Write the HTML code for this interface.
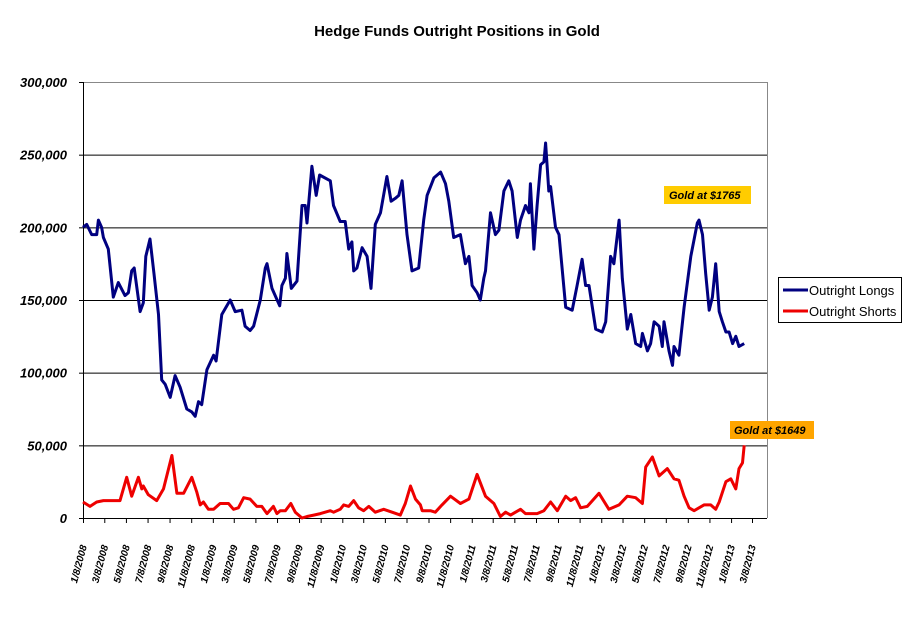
<!DOCTYPE html>
<html><head><meta charset="utf-8"><style>
body{margin:0;background:#fff;}
svg{display:block;font-family:"Liberation Sans",Arial,sans-serif;}
</style></head><body>
<svg id="chart" width="911" height="623" viewBox="0 0 911 623">
<text x="457" y="36" text-anchor="middle" font-size="15" font-weight="bold">Hedge Funds Outright Positions in Gold</text>
<g id="grid"></g>
<g id="yaxis"></g>
<g id="xaxis"></g>
<g id="series"></g>
<g>
<rect x="664" y="186" width="87" height="18" fill="#ffcc00"/>
<text x="669" y="199" font-size="11" font-weight="bold" font-style="italic">Gold at $1765</text></g>
<g>
<rect x="730" y="421" width="84" height="18" fill="#ffa500"/>
<text x="734" y="434" font-size="11" font-weight="bold" font-style="italic">Gold at $1649</text></g>
<g>
<rect x="778.5" y="277.5" width="123" height="45" fill="#fff" stroke="#000"/>
<g><line x1="783" y1="290" x2="808" y2="290" stroke="#000080" stroke-width="3"/><text x="809" y="295" font-size="13">Outright Longs</text></g>
<g><line x1="783" y1="311" x2="808" y2="311" stroke="#ee0000" stroke-width="3"/><text x="809" y="316" font-size="13">Outright Shorts</text></g>
</g>
</svg>
<script>
// weeks since 2008-01-08
const longWeeks=[0,1.5,3.5,5.5,6.2,7.5,8.2,10.2,12.2,14.2,16.9,18.3,19.6,20.6,23,24.3,25.3,27,28.6,30.4,31.7,33.1,35.1,37.1,39.1,41.8,43.8,45.2,46.5,47.8,49.9,52.6,53.6,55.9,59.3,61.3,64,65.3,67.3,68.7,71.4,73.4,74.1,76.1,79.2,80.1,81.5,82.1,83.9,86.2,88.2,89.5,90.2,92.2,93.9,95.3,99.6,100.9,103.6,105.6,107,108.3,109,110.3,112.4,114.4,116,117.7,119.8,122.4,124.1,125.8,127.2,128.5,130.5,132.5,135.2,137.2,138.6,141.3,144,146,147.3,149.3,152,154,155.4,156.7,158.7,160,161.4,162.1,164.1,166.1,167.5,169.5,171.5,172.8,174.9,176.2,178.2,179.6,180.2,181.6,182.9,184.3,185.6,186.3,187.6,188.3,190.3,191.7,194.4,197,199,201,202.4,203.8,206.5,209.1,210.5,212.5,213.8,215.9,217.2,219.2,220.6,222.6,224.6,225.3,227.3,228.6,230,232,233.3,234,236,237.4,238,240,242.1,244.8,247.4,248.1,249.5,250.8,252.2,253.5,254.8,256.2,257.5,258.9,260.2,261.6,262.9,264.2,266.3];
const longValues=[200,202,195,195,205,200,193,185,152,162,153,155,170,172,142,148,180,192,168,140,95,92,83,98,90,75,73,70,80,78,102,112,108,140,150,142,143,132,129,132,150,172,175,158,146,160,165,182,158,163,215,215,203,242,222,236,232,215,204,204,185,190,170,172,186,180,158,202,210,235,218,220,222,232,195,170,172,205,222,234,238,230,218,193,195,175,180,160,155,150,165,170,210,195,198,225,232,225,193,205,215,210,230,185,215,243,245,258,225,228,200,195,145,143,160,178,160,160,130,128,135,180,175,205,165,130,140,120,118,127,115,120,135,132,118,135,115,105,118,112,145,180,203,205,195,168,143,152,175,142,135,128,128,120,125,118,120];
const shortWeeks=[0,2.8,5.5,8.2,12.2,14.9,17.6,19.6,22.3,23.7,24.3,26.3,29.7,32.4,35.8,37.8,40.5,43.8,45.8,47.2,48.5,50.5,52.6,55.2,58.6,60.6,62.6,64.7,67.3,70,72,74.1,76.7,78.1,79.4,81.5,83.7,85.5,88.2,90.2,92.9,95.6,99.6,100.9,103.6,105,107,109,111,113,115.1,117.7,121.1,124.5,127.8,129.8,131.9,133.9,135.9,136.6,139.9,141.9,144.6,148,152,155.4,158.7,162.1,165.5,168.1,170.2,172.2,174.2,176.2,178.2,182.9,185.6,188.3,191,194.4,196.4,198.4,200.4,203.1,207.8,211.8,215.9,219.2,222.6,225.3,226.6,229.3,232,235.3,238,240,242.1,244.1,246.1,250.1,252.8,254.8,256.2,258.9,260.9,262.9,264.2,265.6,266.3];
const shortValues=[11,8,11,12,12,12,28,15,28,20,22,16,12,20,43,17,17,28,18,9,11,6,6,10,10,6,7,14,13,8,8,3,8,3,5,5,10,4,0,1,2,3,5,4,6,9,8,12,7,5,8,4,6,4,2,10,22,13,9,5,5,4,9,15,10,13,30,15,10,1,4,2,4,6,3,3,5,11,5,15,12,14,7,8,17,6,9,15,14,10,35,42,29,34,27,26,15,7,5,9,9,6,11,25,27,20,34,38,50];
const yTicks=[0,50000,100000,150000,200000,250000,300000];
const yTickLabels=["0","50,000","100,000","150,000","200,000","250,000","300,000"];
const xTickLabels=["1/8/2008","3/8/2008","5/8/2008","7/8/2008","9/8/2008","11/8/2008","1/8/2009","3/8/2009","5/8/2009","7/8/2009","9/8/2009","11/8/2009","1/8/2010","3/8/2010","5/8/2010","7/8/2010","9/8/2010","11/8/2010","1/8/2011","3/8/2011","5/8/2011","7/8/2011","9/8/2011","11/8/2011","1/8/2012","3/8/2012","5/8/2012","7/8/2012","9/8/2012","11/8/2012","1/8/2013","3/8/2013"];

const NS="http://www.w3.org/2000/svg";
const L=83,R=767,T=82,B=518,X_END=752,TOTAL_DAYS=1886;
const y=v=>B-(v/300000)*(B-T);
const xDays=d=>L+d/TOTAL_DAYS*(X_END-L);
const xWeek=w=>xDays(w*7);
const base=Date.UTC(2008,0,8);
function mk(t,a,p){const e=document.createElementNS(NS,t);for(const k in a)e.setAttribute(k,a[k]);p.appendChild(e);return e;}
const grid=document.getElementById('grid'),ya=document.getElementById('yaxis'),xa=document.getElementById('xaxis'),ser=document.getElementById('series');
yTicks.forEach((v,i)=>{
  const g=mk('line',{x1:L,x2:R,y1:y(v)+0.5,y2:y(v)+0.5,stroke:i==yTicks.length-1?'#888':'#000','stroke-width':1},grid);
  
  
  const tk=mk('line',{x1:L-4,x2:L,y1:y(v)+0.5,y2:y(v)+0.5,stroke:'#000'},ya);
  const t=mk('text',{x:L-16,y:y(v)+5,'text-anchor':'end','font-size':13,'font-weight':'bold','font-style':'italic'},ya);
  t.textContent=yTickLabels[i];
  
  
});
mk('line',{x1:R+0.5,x2:R+0.5,y1:T,y2:B,stroke:'#888'},grid);
mk('line',{x1:L+0.5,x2:L+0.5,y1:T,y2:B,stroke:'#000'},ya);
mk('line',{x1:L,x2:R,y1:B+0.5,y2:B+0.5,stroke:'#000'},xa);
xTickLabels.forEach(s=>{
  const [m,d,yr]=s.split('/').map(Number);
  const days=(Date.UTC(yr,m-1,d)-base)/86400000;
  const x=xDays(days);
  mk('line',{x1:x+0.5,x2:x+0.5,y1:B,y2:B+5,stroke:'#000'},xa);
  const t=mk('text',{x:0,y:0,'text-anchor':'end','font-size':10,'font-weight':'bold','font-style':'italic',transform:`translate(${x+4},${B+28}) rotate(-75)`},xa);
  t.textContent=s;
  
  
});
function line(ws,vs,col,name){
  const d=ws.map((w,i)=>(i?'L':'M')+xWeek(w).toFixed(1)+','+y(vs[i]*1000).toFixed(1)).join('');
  const p=mk('path',{d:d,fill:'none',stroke:col,'stroke-width':3,'stroke-linejoin':'round'},ser);
  
  
}
line(shortWeeks,shortValues,'#ee0000','outright-shorts-line');
line(longWeeks,longValues,'#000080','outright-longs-line');
</script>
</body></html>
